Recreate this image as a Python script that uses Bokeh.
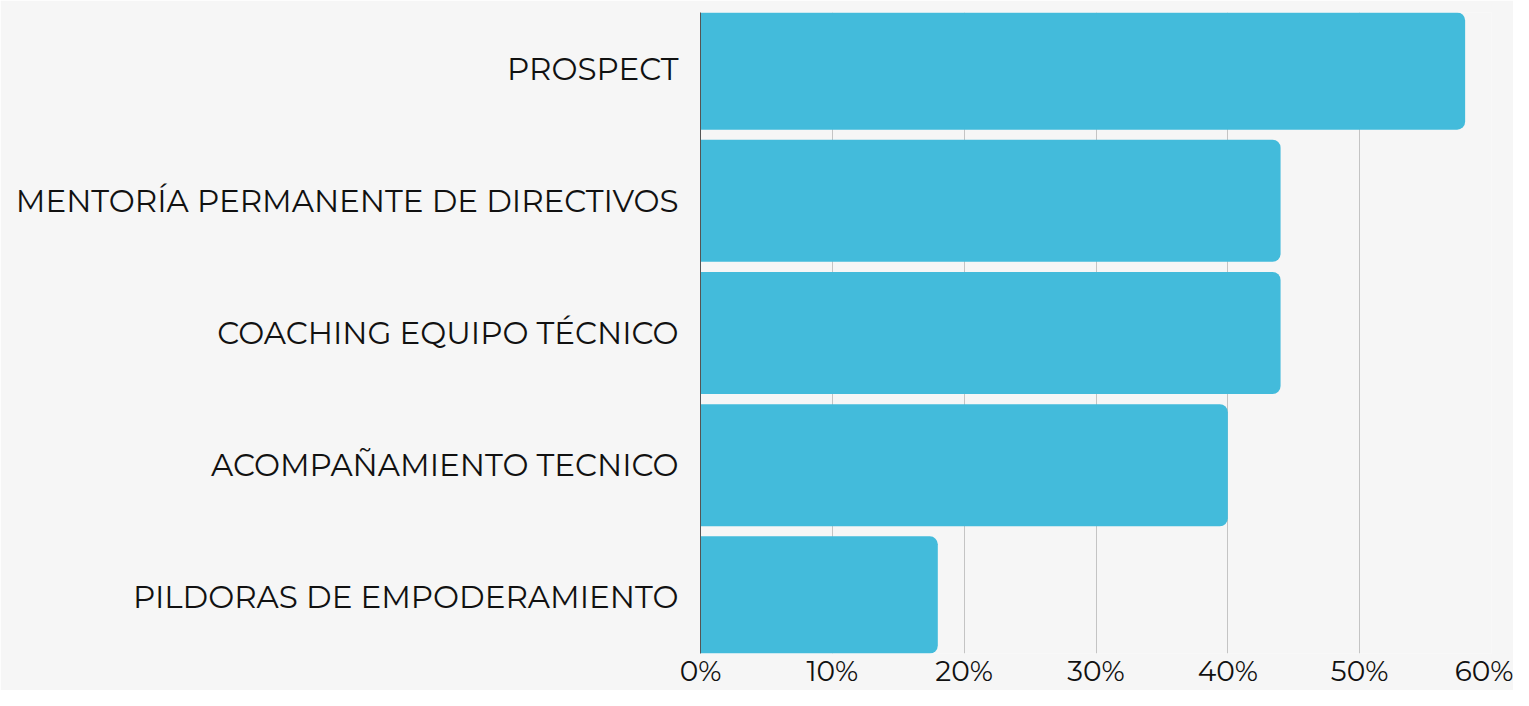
from bokeh.plotting import figure
from bokeh.models import FactorRange, Range1d, NumeralTickFormatter, FixedTicker
from bokeh.embed import file_html
from bokeh.resources import INLINE

categories = [
    "PROSPECT",
    "MENTORÍA PERMANENTE DE DIRECTIVOS",
    "COACHING EQUIPO TÉCNICO",
    "ACOMPAÑAMIENTO TECNICO",
    "PILDORAS DE EMPODERAMIENTO",
]
values = [0.58, 0.44, 0.44, 0.40, 0.18]
x_ticks = [0, 0.1, 0.2, 0.3, 0.4, 0.5, 0.6]

BG = "#f6f6f6"
BAR = "#43bbdb"
FONT = "Montserrat, Open Sans"

factors = list(reversed(categories))
yr = FactorRange(factors=factors, range_padding=-0.076, range_padding_units="absolute")

p = figure(
    width=1513, height=690,
    y_range=yr, x_range=Range1d(0, 0.6),
    output_backend="svg", toolbar_location=None,
    background_fill_color=BG, border_fill_color=BG,
    min_border_left=700, min_border_right=22, min_border_top=12, min_border_bottom=30,
)
p.outline_line_color = None

p.hbar(y=categories, right=values, left=0, height=0.924,
       fill_color=BAR, line_color=None, border_radius=(0, 8, 8, 0))

p.ygrid.grid_line_color = None
p.xgrid.grid_line_color = "#c4c4c4"
p.xgrid.grid_line_width = 1
p.xgrid.ticker = FixedTicker(ticks=x_ticks[1:])

p.xaxis.ticker = FixedTicker(ticks=x_ticks)
p.xaxis.formatter = NumeralTickFormatter(format="0%")
p.xaxis.axis_line_color = None
p.xaxis.major_tick_line_color = None
p.xaxis.minor_tick_line_color = None
p.xaxis.major_tick_out = 0
p.xaxis.major_tick_in = 0
p.xaxis.major_label_standoff = 0
p.xaxis.major_label_text_font = FONT
p.xaxis.major_label_text_font_size = "28px"
p.xaxis.major_label_text_color = "#111111"

p.yaxis.axis_line_color = "#555555"
p.yaxis.axis_line_width = 1
p.yaxis.major_tick_line_color = None
p.yaxis.minor_tick_line_color = None
p.yaxis.major_tick_out = 0
p.yaxis.major_tick_in = 0
p.yaxis.major_label_standoff = 22
p.yaxis.major_label_text_font = FONT
p.yaxis.major_label_text_font_size = "31px"
p.yaxis.major_label_text_color = "#111111"

open("out.html", "w").write(file_html(p, INLINE))
